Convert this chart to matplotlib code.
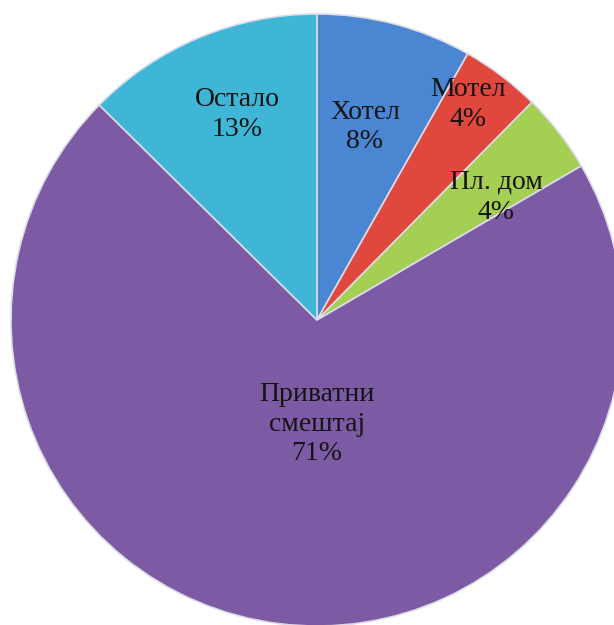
import matplotlib.pyplot as plt
import numpy as np

# shares of accommodation types
names = ['Хотел', 'Мотел', 'Пл. дом', 'Приватни\nсмештај', 'Остало']
shares = [8.2, 4.2, 4.2, 70.8, 12.6]
colors = ['#4a86d2', '#e0473d', '#a5cf52', '#7d5aa4', '#3fb6d6']
# label placement: radius and angle shift (deg) from the slice middle
label_r = [0.65, 0.86, 0.71, 0.34, 0.72]
label_dang = [0.8, 2.0, -3.4, 7.2, -1.4]

plt.rcParams['font.family'] = ['Liberation Serif', 'DejaVu Serif']

fig = plt.figure(figsize=(6.14, 6.25), dpi=100)
ax = fig.add_axes([0, 0, 1, 1])

wedges, _ = ax.pie(shares, colors=colors, startangle=90, counterclock=False,
                   radius=1.0,
                   wedgeprops=dict(edgecolor='#dcdce8', linewidth=1.2))

total = sum(shares)
for w, name, v, r, da in zip(wedges, names, shares, label_r, label_dang):
    ang = np.deg2rad((w.theta1 + w.theta2) / 2 + da)
    ax.text(r * np.cos(ang), r * np.sin(ang), f'{name}\n{v / total * 100:.0f}%',
            ha='center', va='center', fontsize=20, color='#141414',
            linespacing=1.25)

# 306 px per unit, centre at pixel (317, 320)
ax.set_xlim(-317 / 306, (614 - 317) / 306)
ax.set_ylim(-(625 - 320) / 306, 320 / 306)
ax.set_aspect('auto')
ax.axis('off')

fig.savefig('out.png', dpi=100)
